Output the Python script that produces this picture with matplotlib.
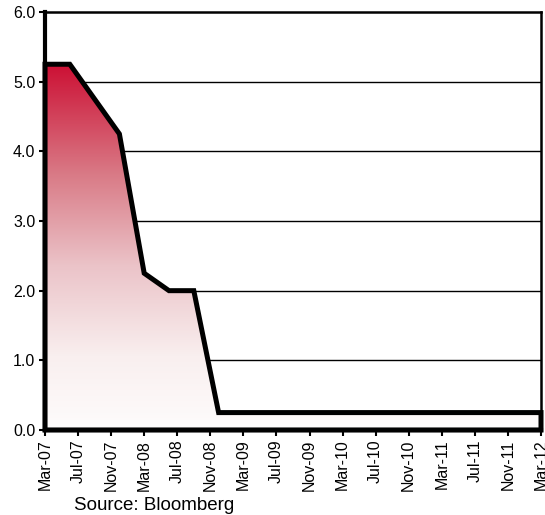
import numpy as np
import matplotlib
matplotlib.use("Agg")
import matplotlib.pyplot as plt
from matplotlib.patches import Polygon
from matplotlib.colors import LinearSegmentedColormap

plt.rcParams['font.family'] = ['Liberation Sans', 'DejaVu Sans']

# Quarterly Fed funds target rate, month index from Mar-07
months = [0, 3, 6, 9, 12, 15, 18, 21, 24, 27, 30, 33, 36, 39, 42, 45, 48, 51, 54, 57, 60]
rates = [5.25, 5.25, 4.75, 4.25, 2.25, 2.0, 2.0, 0.25, 0.25, 0.25, 0.25, 0.25,
         0.25, 0.25, 0.25, 0.25, 0.25, 0.25, 0.25, 0.25, 0.25]
tick_months = list(range(0, 61, 4))
tick_labels = ['Mar-07', 'Jul-07', 'Nov-07', 'Mar-08', 'Jul-08', 'Nov-08', 'Mar-09',
               'Jul-09', 'Nov-09', 'Mar-10', 'Jul-10', 'Nov-10', 'Mar-11', 'Jul-11',
               'Nov-11', 'Mar-12']
y_ticks = [0, 1, 2, 3, 4, 5, 6]

fig = plt.figure(figsize=(5.45, 5.15), dpi=100)
ax = fig.add_axes([45/545, 1-430/515, 496/545, 418/515])
ax.set_xlim(0, 60)
ax.set_ylim(0, 6)

for yv in y_ticks[1:-1]:
    ax.axhline(yv, color='black', lw=1.0, zorder=1)

# gradient fill
verts = [(months[0], 0)] + list(zip(months, rates)) + [(months[-1], 0)]
poly = Polygon(verts, closed=True, facecolor='none', edgecolor='none')
ax.add_patch(poly)
cmap = LinearSegmentedColormap.from_list(
    'g', [(0.0, '#fefcfc'), (0.2, '#f9efef'), (0.45, '#ebc3c8'),
          (0.7, '#d97a86'), (1.0, '#cc1034')])
grad = np.linspace(0, 1, 256).reshape(-1, 1)
im = ax.imshow(grad, extent=[0, 60, 0, max(rates)], origin='lower', cmap=cmap,
               aspect='auto', zorder=2)
im.set_clip_path(poly)

outline = Polygon(verts, closed=True, facecolor='none', edgecolor='black', lw=3.6,
                  joinstyle='miter', zorder=3, clip_on=False)
ax.add_patch(outline)

ax.set_xticks(tick_months)
ax.set_xticklabels(tick_labels, rotation=90, fontsize=11.5)
ax.set_yticks(y_ticks)
ax.set_yticklabels([f'{v:.1f}' for v in y_ticks], fontsize=11.5)
ax.tick_params(axis='both', direction='out', length=4, width=1.5, color='black', pad=3)

for s in ['left', 'bottom']:
    ax.spines[s].set_linewidth(3.0)
for s in ['top', 'right']:
    ax.spines[s].set_linewidth(1.8)

fig.text(74/545, 1-510/515, 'Source: Bloomberg', fontsize=13.5, ha='left', va='baseline')

fig.savefig('out.png', dpi=100)
